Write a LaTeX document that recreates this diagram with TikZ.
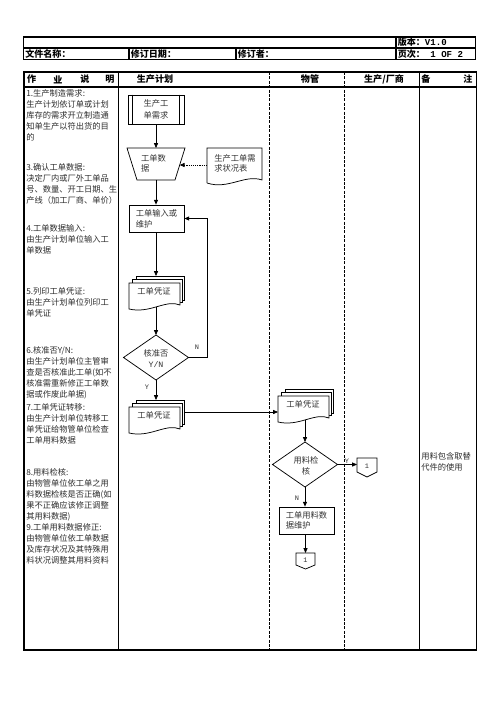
\documentclass[tikz,border=0pt]{standalone}
\usepackage{fontspec}
\setmainfont{Noto Sans CJK SC}
\newfontfamily\monof{Liberation Mono}
\usetikzlibrary{calc,arrows.meta}
\newdimen\px \px=0.75pt
\newcommand\mdocshape[4]{%
\begin{scope}[shift={(#1,#2)}]
\draw[shpline] (136,276) rectangle (184,300);
\draw[shpline] (132.5,279.5) rectangle (182,302.5);
\draw[shpline] (129,309) -- (129,283) -- (180,283) -- (180,305) .. controls (166,299) and (150,314) .. (129,309) -- cycle;
\node[ftxt] (#3) at (154,291) {#4};
\coordinate (#3N) at (156,276);
\coordinate (#3S) at (156,306.5);
\coordinate (#3E) at (184,288);
\coordinate (#3W) at (129,299);
\end{scope}}
\begin{document}
\begin{tikzpicture}[x=0.75pt,y=-0.75pt,
  tbl/.style={line width=0.85pt},
  lane/.style={line width=0.7pt, dash pattern=on 2.2pt off 1.1pt},
  shpline/.style={draw, line width=0.55pt, fill=white},
  boxnode/.style={draw, line width=0.55pt, fill=white, inner sep=0pt, align=left,
     font=\fontsize{6.2}{8.25}\selectfont, text=black!80},
  arr/.style={-{Triangle[length=3.6pt,width=3pt]}, line width=0.55pt},
  dotarr/.style={-{Triangle[length=3.6pt,width=3pt]}, line width=0.55pt, dash pattern=on 0.7pt off 0.7pt},
  txt/.style={font=\fontsize{6.2}{8.25}\selectfont, inner sep=0pt, align=left, anchor=north west, text=black!82},
  ftxt/.style={font=\fontsize{6.2}{8}\selectfont, inner sep=0pt, align=left, text=black!80},
  hd/.style={font=\bfseries\fontsize{6.8}{8}\selectfont, inner sep=0pt},
  lbl/.style={font=\monof\fontsize{5.2}{6}\selectfont, inner sep=0pt, text=black!80}]
\useasboundingbox (0,0) rectangle (496,702);
\fill[white] (0,0) rectangle (496,702);

% header table
\draw[tbl] (23.5,37) rectangle (475.5,59.5);
\draw[tbl] (23.5,48) -- (475.5,48);
\draw[tbl] (396,37) -- (396,59.5);
\draw[tbl] (129,48) -- (129,59.5);
\draw[tbl] (236,48) -- (236,59.5);
\node[hd, anchor=west] (hv) at (397.5,42.5) {版本：{\monof\bfseries V1.0}};
\node[hd, anchor=west] (hf) at (25,54) {文件名称：};
\node[hd, anchor=west] (hd2) at (130.5,54) {修订日期：};
\node[hd, anchor=west] (hr) at (237.5,54) {修订者：};
\node[hd, anchor=west] (hp) at (397.5,54) {页次：{\monof\bfseries\ 1 OF 2}};

% main table
\draw[tbl] (24,72) rectangle (476.5,650);
\draw[tbl] (24,87) -- (476.5,87);
\draw[tbl] (118.3,72) -- (118.3,650);
\draw[tbl] (419.3,72) -- (419.3,650);
\draw[lane] (269.5,72) -- (269.5,650);
\draw[lane] (344.5,72) -- (344.5,650);

\node[hd] (c1a) at (31.7,79.5) {作};
\node[hd] (c1b) at (58,79.5) {业};
\node[hd] (c1c) at (85,79.5) {说};
\node[hd] (c1d) at (110,79.5) {明};
\node[hd] (c2) at (155,79.5) {生产计划};
\node[hd] (c3) at (310,79.5) {物管};
\node[hd] (c4) at (384,79.5) {生产/厂商};
\node[hd] (c5a) at (426,79.5) {备};
\node[hd] (c5b) at (468,79.5) {注};

% left column text
\node[txt] (p1) at (26,89.2) {1.生产制造需求:\\生产计划依订单或计划\\库存的需求开立制造通\\知单生产以符出货的目\\的};
\node[txt] (p3) at (26,163.2) {3.确认工单数据:\\决定厂内或厂外工单品\\号、数量、开工日期、生\\产线（加工厂商、单价）};
\node[txt] (p4) at (26,224.2) {4.工单数据输入:\\由生产计划单位输入工\\单数据};
\node[txt] (p5) at (26,287.2) {5.列印工单凭证:\\由生产计划单位列印工\\单凭证};
\node[txt] (p6) at (26,346.2) {6.核准否Y/N:\\由生产计划单位主管审\\查是否核准此工单(如不\\核准需重新修正工单数\\据或作废此单据)};
\node[txt] (p7) at (26,403.2) {7.工单凭证转移:\\由生产计划单位转移工\\单凭证给物管单位检查\\工单用料数据};
\node[txt] (p8) at (26,468.2) {8.用料检核:\\由物管单位依工单之用\\料数据检核是否正确(如\\果不正确应该修正调整\\其用料数据)};
\node[txt] (p9) at (26,523.2) {9.工单用料数据修正:\\由物管单位依工单数据\\及库存状况及其特殊用\\料状况调整其用料资料};

% remark
\node[txt] (rmk) at (421,452.2) {用料包含取替\\代件的使用};

% 1 predefined process
\node[boxnode, align=center, minimum width=56\px, minimum height=29\px,
  font=\fontsize{6.2}{9}\selectfont] (req) at (156,109.5) {生产工\\单需求};
\draw[line width=0.55pt] ($(req.north west)+(4.5,0)$) -- ($(req.south west)+(4.5,0)$);
\draw[line width=0.55pt] ($(req.north east)+(-5.5,0)$) -- ($(req.south east)+(-5.5,0)$);

% trapezoid
\draw[shpline] (127,148) -- (185,148) -- (175,180) -- (137,180) -- cycle;
\coordinate (trapN) at (156,148);
\coordinate (trapS) at (156,180);
\coordinate (trapE) at (179.7,165);
\node[ftxt, font=\fontsize{6.2}{7.5}\selectfont] (trapT) at (153.5,163) {工单数\\据};

% document
\draw[shpline] (207,183) -- (207,148) -- (262,148) -- (262,180) .. controls (245,174) and (228,190) .. (207,183);
\coordinate (docW) at (207,165);
\node[ftxt, font=\fontsize{6.2}{7.5}\selectfont] (docT) at (235,163) {生产工单需\\求状况表};

% input box
\node[boxnode, minimum width=55\px, minimum height=27\px] (inp) at (156.5,218.5) {工单输入或\\维护};

% multi documents
\mdocshape{0}{0}{vA}{工单凭证}
\mdocshape{0}{124}{vB}{工单凭证}
\mdocshape{149}{113}{vC}{工单凭证}

% diamond 1
\draw[shpline] (123.5,357.5) -- (156,335) -- (188.5,357.5) -- (156,380) -- cycle;
\coordinate (d1N) at (156,335);
\coordinate (d1S) at (156,380);
\coordinate (d1E) at (188.5,357.5);
\node[ftxt, align=center, font=\fontsize{6.2}{8.25}\selectfont] (d1T) at (156,358.5) {核准否\\{\monof Y/N}};

% diamond 2
\draw[shpline] (272.5,464.5) -- (305,442) -- (337.5,464.5) -- (305,487) -- cycle;
\coordinate (d2N) at (305,442);
\coordinate (d2S) at (305,487);
\coordinate (d2E) at (337.5,464.5);
\node[ftxt, align=center, font=\fontsize{6.2}{8.25}\selectfont] (d2T) at (306,465.5) {用料检\\核};

% material box
\node[boxnode, minimum width=55\px, minimum height=27\px, font=\fontsize{6.2}{7.5}\selectfont] (mat) at (306.5,520.5) {工单用料数\\据维护};

% off-page connectors
\draw[shpline] (357,458) -- (377,458) -- (377,472) -- (367,477) -- (357,472) -- cycle;
\coordinate (op1W) at (357,464.5);
\node[lbl] (op1T) at (367,466) {1};
\draw[shpline] (296,553) -- (315,553) -- (315,565) -- (305.5,569) -- (296,565) -- cycle;
\coordinate (op2N) at (305.5,553);
\node[lbl] (op2T) at (305.5,560) {1};

% connectors
\draw[arr] (req.south) -- (trapN);
\draw[dotarr] (docW) -- (trapE);
\draw[arr] (trapS) -- (trapS |- inp.north);
\draw[arr] (inp.south -| vAN) -- (vAN);
\draw[arr] (vAS) -- (d1N);
\draw[arr] (d1E) -- ++(18.5,0) |- (inp.east);
\draw[arr] (d1S) -- (vBN);
\draw[arr] (vBE) -- (vCW);
\draw[arr] (vCS) -- (d2N);
\draw[arr] (d2E) -- (op1W);
\draw[arr] (d2S) -- (d2S |- mat.north);
\draw[arr] (mat.south -| op2N) -- (op2N);

% labels
\node[lbl] (lN1) at (197,347) {N};
\node[lbl] (lY1) at (147,387) {Y};
\node[lbl] (lY2) at (347,461) {Y};
\node[lbl] (lN2) at (297,498) {N};
\end{tikzpicture}
\end{document}
